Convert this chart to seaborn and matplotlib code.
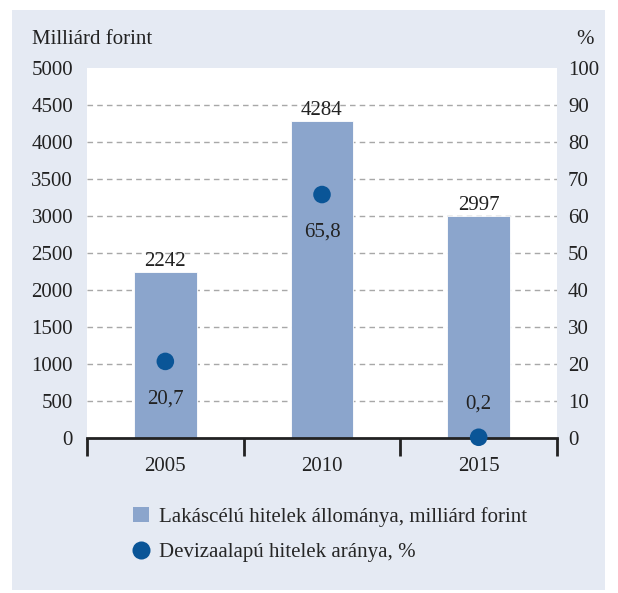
import numpy as np
import pandas as pd
import seaborn as sns
import matplotlib.pyplot as plt
from matplotlib.patches import Rectangle
from matplotlib.lines import Line2D
from matplotlib.patches import Patch

# adatok
years = ["2005", "2010", "2015"]
loans = [2242, 4284, 2997]          # milliárd forint
fx_share = [20.7, 65.8, 0.2]        # %
fx_labels = ["20,7", "65,8", "0,2"]

bar_color = "#8BA5CC"
dot_color = "#0A5597"
bg_color = "#E5EAF3"
txt_color = "#222222"
fs = 15

sns.set_theme(style="white")
plt.rcParams["font.family"] = ["Liberation Serif", "DejaVu Serif"]
plt.rcParams["font.size"] = fs

fig = plt.figure(figsize=(6.18, 5.93), dpi=100, facecolor="white")
fig.patches.append(Rectangle((12 / 618, 1 - 590 / 593), 593 / 618, 580 / 593,
                             transform=fig.transFigure, facecolor=bg_color,
                             edgecolor="none", zorder=-10))
ax = fig.add_axes([87 / 618, 1 - 438 / 593, 470 / 618, 370 / 593])
ax.set_facecolor("white")

df = pd.DataFrame({"year": years, "loans": loans})
sns.barplot(data=df, x="year", y="loans", color=bar_color, width=0.4,
            saturation=1, edgecolor="white", linewidth=0.6, ax=ax, zorder=2)
ax.set_ylim(0, 5000)
ax.set_xlim(-0.5, 2.5)
ax.set_yticks(np.arange(0, 5001, 500))
ax.set_xlabel("")
ax.set_ylabel("")

# rács
ax.yaxis.grid(True, color="#A8A8A8", linestyle=(0, (4, 3)), linewidth=1)
ax.set_axisbelow(True)
gl = ax.get_ygridlines()
gl[0].set_visible(False)
gl[-1].set_visible(False)

for s in ["left", "right", "top"]:
    ax.spines[s].set_visible(False)
ax.spines["bottom"].set_color(txt_color)
ax.spines["bottom"].set_linewidth(2)
ax.spines["bottom"].set_zorder(5)

ax.set_xticks([-0.5, 0.5, 1.5, 2.5])
ax.set_xticklabels([])
ax.set_xticks([0, 1, 2], minor=True)
ax.set_xticklabels(years, minor=True)
ax.tick_params(axis="x", which="major", direction="out", length=13, width=2,
               color=txt_color, bottom=True)
ax.tick_params(axis="x", which="minor", length=0, pad=14, labelsize=fs,
               labelcolor=txt_color)
ax.tick_params(axis="y", length=0, pad=10, labelsize=fs, labelcolor=txt_color)

for c in ax.containers:
    ax.bar_label(c, labels=[str(v) for v in loans], padding=1, fontsize=fs,
                 color=txt_color)

# jobb tengely
ax2 = ax.twinx()
sns.scatterplot(x=[0, 1, 2], y=fx_share, ax=ax2, color=dot_color, s=160,
                edgecolor="none", zorder=6, clip_on=False)
ax2.set_ylim(0, 100)
ax2.set_yticks(np.arange(0, 101, 10))
ax2.tick_params(axis="y", length=0, pad=8, labelsize=fs, labelcolor=txt_color)
for s in ["left", "right", "top", "bottom"]:
    ax2.spines[s].set_visible(False)
offsets = [-27, -27, 24]
for x, y, lab, off in zip([0, 1, 2], fx_share, fx_labels, offsets):
    ax2.annotate(lab, (x, y), xytext=(0, off), textcoords="offset points",
                 ha="center", va="center", fontsize=fs, color=txt_color)

fig.text(32 / 618, 1 - 40 / 593, "Milliárd forint", fontsize=fs,
         va="center", ha="left", color=txt_color)
fig.text(594 / 618, 1 - 40 / 593, "%", fontsize=fs, va="center", ha="right",
         color=txt_color)

handles = [
    Patch(facecolor=bar_color, edgecolor="none",
          label="Lakáscélú hitelek állománya, milliárd forint"),
    Line2D([0], [0], marker="o", linestyle="none", markersize=13,
           markerfacecolor=dot_color, markeredgecolor="none",
           label="Devizaalapú hitelek aránya, %"),
]
fig.legend(handles=handles, loc="upper left",
           bbox_to_anchor=(133 / 618, 1 - 507 / 593), frameon=False,
           fontsize=fs, handlelength=0.75, handleheight=0.75, handletextpad=0.5,
           labelspacing=0.75, borderaxespad=0, borderpad=0)

fig.savefig("out.png", dpi=100, facecolor="white")
